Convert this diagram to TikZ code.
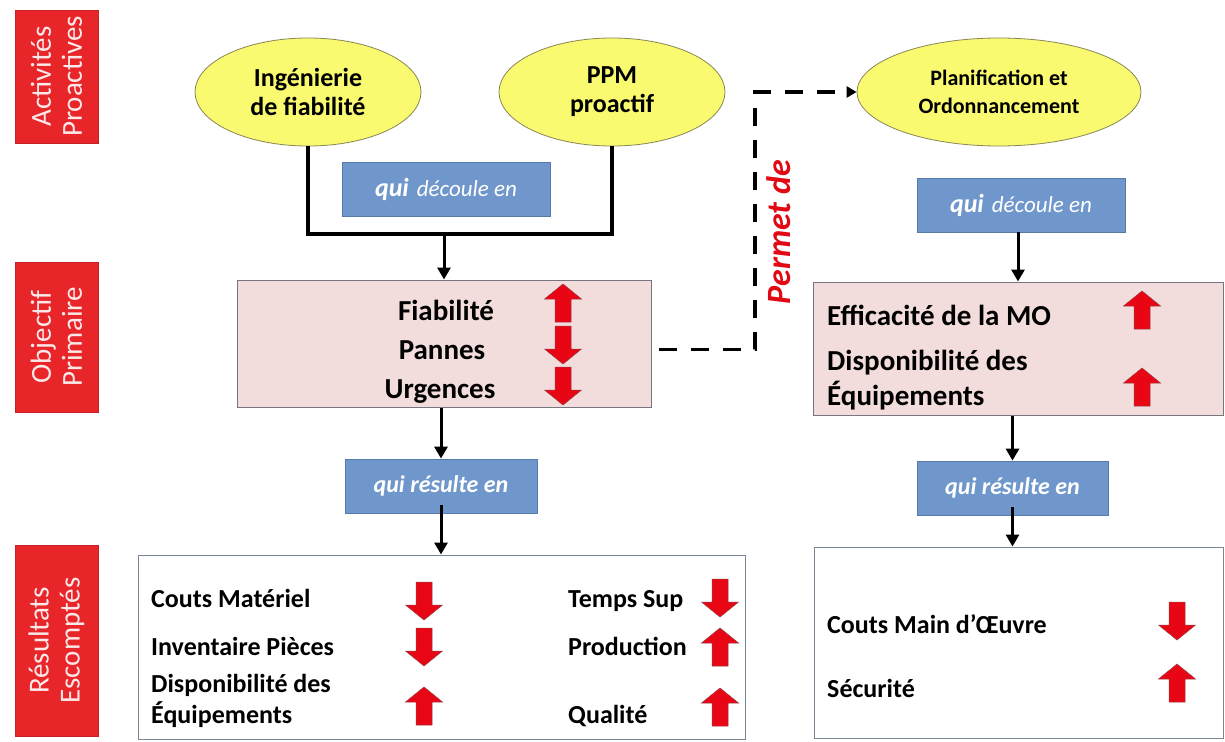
\documentclass[tikz,border=0pt]{standalone}
\usepackage{fontspec}
\setmainfont{Carlito}
\usetikzlibrary{arrows.meta,shapes.geometric}

\definecolor{labred}{RGB}{232,38,42}
\definecolor{labtext}{RGB}{252,232,232}
\definecolor{ellyel}{RGB}{250,250,112}
\definecolor{ellline}{RGB}{135,135,85}
\definecolor{boxblue}{RGB}{111,151,204}
\definecolor{boxblueline}{RGB}{88,122,170}
\definecolor{boxpink}{RGB}{242,221,220}
\definecolor{boxpinkline}{RGB}{118,118,128}
\definecolor{resline}{RGB}{120,135,150}
\definecolor{arrred}{RGB}{232,6,20}
\definecolor{arrline}{RGB}{150,60,70}
\definecolor{permred}{RGB}{225,10,20}

\begin{document}
\begin{tikzpicture}[x=1pt,y=-1pt,
  lab/.style={rectangle, fill=labred, draw=labred!85!black, line width=0.8pt,
    rotate=90, minimum height=83pt, inner sep=0pt, align=center,
    text=labtext, font=\fontsize{29}{31}\selectfont},
  act/.style={ellipse, fill=ellyel, draw=ellline, line width=0.8pt,
    minimum width=226pt, minimum height=108pt, inner sep=0pt, align=center,
    font=\bfseries\fontsize{26}{29}\selectfont},
  bluebox/.style={rectangle, fill=boxblue, draw=boxblueline, line width=0.8pt,
    minimum height=54pt, inner sep=0pt, text=white,
    font=\bfseries\itshape\fontsize{24}{26}\selectfont},
  pinkbox/.style={rectangle, fill=boxpink, draw=boxpinkline, line width=1pt, inner sep=0pt},
  resbox/.style={rectangle, fill=white, draw=resline, line width=1pt, inner sep=0pt},
  pitem/.style={anchor=base, inner sep=0pt, font=\bfseries\fontsize{29}{32}\selectfont},
  qitem/.style={anchor=base west, inner sep=0pt, font=\bfseries\fontsize{29}{32}\selectfont},
  ritem/.style={anchor=base west, inner sep=0pt, font=\bfseries\fontsize{26}{30}\selectfont},
  flow/.style={-{Triangle[length=12pt,width=13pt]}, line width=3pt},
  bracket/.style={line width=4pt},
  dashlink/.style={line width=3.5pt, dash pattern=on 18pt off 14pt,
    -{Triangle[length=10pt,width=11pt]}},
  redup/.pic={\filldraw[fill=arrred, draw=arrline, line width=0.5pt]
    (-8,19) -- (-8,-4) -- (-18.5,-4) -- (0,-19) -- (18.5,-4) -- (8,-4) -- (8,19) -- cycle;},
  reddown/.pic={\filldraw[fill=arrred, draw=arrline, line width=0.5pt]
    (-8,-19) -- (-8,4) -- (-18.5,4) -- (0,19) -- (18.5,4) -- (8,4) -- (8,-19) -- cycle;}
]
\useasboundingbox (0,0) rectangle (1225,741);
\fill[white] (0,0) rectangle (1225,741);

% row labels on the left
\node[lab, minimum width=133pt] (la) at (56.5,76.5) {Activités\\Proactives};
\node[lab, minimum width=150pt] (lb) at (56.5,337) {Objectif\\Primaire};
\node[lab, minimum width=191pt] (lc) at (56.5,640.5) {Résultats\\Escomptés};

% proactive activities
\node[act] (e1) at (308,92) {Ingénierie\\de fiabilité};
\node[act] (e2) at (612,92) {PPM\\proactif};
\node[act, minimum width=284pt, font=\bfseries\fontsize{22}{28}\selectfont] (e3) at (999,92)
  {Planification et\\Ordonnancement};

% "qui découle en" boxes
\node[bluebox, minimum width=208pt] (b1) at (446,189)
  {{\fontsize{26}{26}\selectfont qui}\hspace{8pt}{\mdseries\fontsize{23}{26}\selectfont découle en}};
\node[bluebox, minimum width=208pt] (b2) at (1021,205)
  {{\fontsize{26}{26}\selectfont qui}\hspace{8pt}{\mdseries\fontsize{23}{26}\selectfont découle en}};

% primary objectives
\node[pinkbox, minimum width=414pt, minimum height=127pt] (p1) at (444,343.5) {};
\node[pinkbox, minimum width=410pt, minimum height=133pt] (p2) at (1018,348.5) {};

\node[pitem] (f1) at (446,320) {Fiabilité};
\node[pitem] (f2) at (442,359) {Pannes};
\node[pitem] (f3) at (440,398) {Urgences};
\pic at (563,303) {redup};
\pic at (563,345) {reddown};
\pic at (563,386) {reddown};

\node[qitem] (g1) at (827,325) {Efficacité de la MO};
\node[qitem] (g2) at (827,370) {Disponibilité des};
\node[qitem] (g3) at (827,405) {Équipements};
\pic at (1142,310) {redup};
\pic at (1142,387) {redup};

% "qui résulte en" boxes
\node[bluebox, minimum width=192pt] (b3) at (441,486) {qui résulte en};
\node[bluebox, minimum width=191pt] (b4) at (1012.5,488) {qui résulte en};

% expected results
\node[resbox, minimum width=607pt, minimum height=184pt] (r1) at (441.5,647) {};
\node[resbox, minimum width=409pt, minimum height=191pt] (r2) at (1018.5,642.5) {};

\node[ritem] (h1) at (151,607) {Couts Matériel};
\node[ritem] (h2) at (151,655) {Inventaire Pièces};
\node[ritem] (h3) at (151,692) {Disponibilité des};
\node[ritem] (h4) at (151,723) {Équipements};
\node[ritem] (h5) at (568,607) {Temps Sup};
\node[ritem] (h6) at (568,655) {Production};
\node[ritem] (h7) at (568,723) {Qualité};
\pic at (424,601) {reddown};
\pic at (424,647) {reddown};
\pic at (424,706) {redup};
\pic at (720,598) {reddown};
\pic at (720,647) {redup};
\pic at (720,707) {redup};

\node[ritem] (k1) at (827,633) {Couts Main d’Œuvre};
\node[ritem] (k2) at (827,697) {Sécurité};
\pic at (1177,621) {reddown};
\pic at (1177,683) {redup};

% connectors
\coordinate (jl) at (0,234);
\draw[bracket] (e1.south) -- (e1.south |- jl) -- (e2.south |- jl) -- (e2.south);
\draw[flow] (p1.north |- jl) -- (p1.north);
\draw[flow] (b2.south -| p2.north) -- (p2.north);
\draw[flow] (b3.north |- p1.south) -- (b3.north);
\draw[flow] ([yshift=8pt]b3.south) -- (b3.south |- r1.north);
\draw[flow] (b4.north |- p2.south) -- (b4.north);
\draw[flow] ([yshift=8pt]b4.south) -- (b4.south |- r2.north);

% dashed link towards planning
\coordinate (dk) at (755,0);
\draw[dashlink] ([xshift=7pt,yshift=-6pt]p1.east) -| (dk |- e3.west) -- (e3.west);
\node[rotate=90, text=permred, inner sep=0pt,
  font=\bfseries\itshape\fontsize{34}{36}\selectfont] (pd) at (779,232) {Permet de};
\end{tikzpicture}
\end{document}
